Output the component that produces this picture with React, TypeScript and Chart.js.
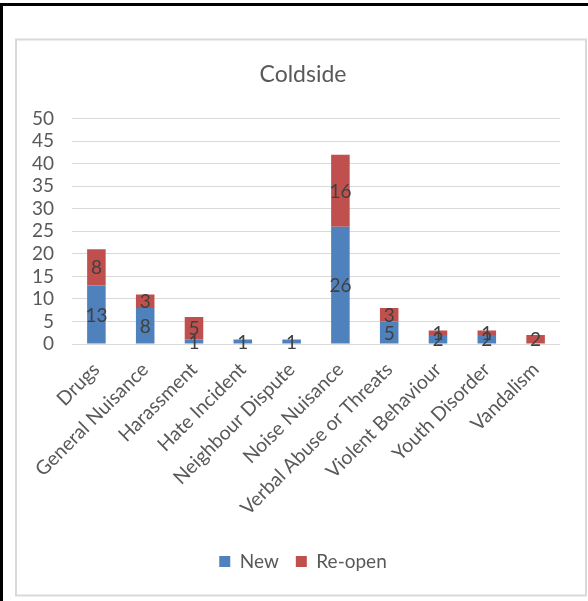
import React, { useEffect, useRef } from "react";
import { Chart, registerables } from "chart.js";

Chart.register(...registerables);

const categories = [
  "Drugs",
  "General Nuisance",
  "Harassment",
  "Hate Incident",
  "Neighbour Dispute",
  "Noise Nuisance",
  "Verbal Abuse or Threats",
  "Violent Behaviour",
  "Youth Disorder",
  "Vandalism",
];
const newValues = [13, 8, 1, 1, 1, 26, 5, 2, 2, 0];
const reopenValues = [8, 3, 5, 0, 0, 16, 3, 1, 1, 2];
const yMin = 0;
const yMax = 50;
const yStep = 5;
const chartTitle = "Coldside";

const FONT = "Lato, 'Open Sans', sans-serif";

const framePlugin = {
  id: "frame",
  beforeDraw(chart: any) {
    const ctx = chart.ctx;
    ctx.save();
    ctx.fillStyle = "#ffffff";
    ctx.fillRect(0, 0, chart.width, chart.height);
    ctx.strokeStyle = "#d9d9d9";
    ctx.lineWidth = 2;
    ctx.strokeRect(16, 39.5, 570, 556);
    ctx.fillStyle = "#000000";
    ctx.fillRect(0, 3, chart.width, 3);
    ctx.fillRect(0, 3, 3, chart.height - 3);
    ctx.restore();
  },
};

const segLabelPlugin = {
  id: "segLabels",
  afterDatasetsDraw(chart: any) {
    const ctx = chart.ctx;
    ctx.save();
    ctx.font = `19px ${FONT}`;
    ctx.fillStyle = "#404040";
    ctx.textAlign = "center";
    ctx.textBaseline = "middle";
    chart.data.datasets.forEach((ds: any, i: number) => {
      const meta = chart.getDatasetMeta(i);
      meta.data.forEach((el: any, j: number) => {
        const v = ds.data[j];
        if (!v) return;
        const p = el.getProps(["x", "y", "base"], true);
        ctx.fillText(String(v), p.x, (p.y + p.base) / 2 + 1);
      });
    });
    ctx.restore();
  },
};

export default function App() {
  const ref = useRef<HTMLCanvasElement | null>(null);
  useEffect(() => {
    if (!ref.current) return;
    const chart = new Chart(ref.current, {
      type: "bar",
      data: {
        labels: categories,
        datasets: [
          {
            label: "New",
            data: newValues,
            backgroundColor: "#4F81BD",
            borderWidth: 0,
            barPercentage: 0.38,
            categoryPercentage: 1,
          },
          {
            label: "Re-open",
            data: reopenValues,
            backgroundColor: "#C0504D",
            borderWidth: 0,
            barPercentage: 0.38,
            categoryPercentage: 1,
          },
        ],
      },
      options: {
        responsive: false,
        animation: false,
        devicePixelRatio: 1,
        layout: { padding: { left: 24, right: 6, top: 0, bottom: 20 } },
        plugins: {
          title: {
            display: true,
            text: chartTitle,
            color: "#595959",
            font: { family: FONT, size: 23, weight: "normal", lineHeight: 1.2 },
            padding: { top: 61, bottom: 30 },
          },
          legend: {
            position: "bottom",
            labels: {
              boxWidth: 11,
              boxHeight: 11,
              color: "#595959",
              font: { family: FONT, size: 19 },
              padding: 17,
            },
          },
          tooltip: { enabled: false },
        },
        scales: {
          x: {
            stacked: true,
            grid: { display: false },
            border: { display: false },
            ticks: {
              autoSkip: false,
              maxRotation: 45,
              minRotation: 45,
              color: "#595959",
              font: { family: FONT, size: 19.5 },
              padding: 6,
            },
            afterFit(scale: any) {
              scale.height = 191;
            },
          },
          y: {
            stacked: true,
            min: yMin,
            max: yMax,
            grid: { color: "#d9d9d9", lineWidth: 1, drawTicks: false },
            border: { display: false },
            ticks: {
              stepSize: yStep,
              autoSkip: false,
              color: "#595959",
              font: { family: FONT, size: 19 },
              padding: 18,
            },
            afterFit(scale: any) {
              scale.width = 48;
            },
          },
          y2: {
            position: "right",
            display: true,
            grid: { display: false },
            border: { display: false },
            ticks: { display: false },
            afterFit(scale: any) {
              scale.width = 22;
            },
          },
        },
      },
      plugins: [framePlugin, segLabelPlugin],
    } as any);
    return () => chart.destroy();
  }, []);
  return (
    <div style={{ position: "absolute", left: 0, top: 0, width: 588, height: 601 }}>
      <canvas ref={ref} width={588} height={601} style={{ width: 588, height: 601, display: "block" }} />
    </div>
  );
}
